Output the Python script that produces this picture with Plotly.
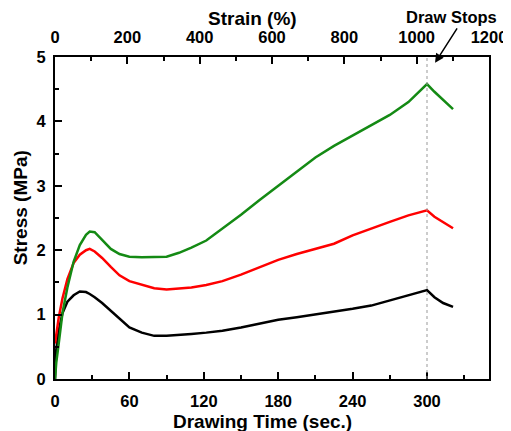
import plotly.graph_objects as go

# Drawing time (s)
time_s = [0, 1, 3, 6, 10, 15, 20, 25, 28, 32, 38, 45, 52, 60, 70, 80, 90, 100, 110,
          122, 135, 150, 165, 180, 195, 210, 225, 240, 255, 270, 285, 300, 306, 313, 321]

stress_black = [0.0, 0.45, 0.75, 1.02, 1.20, 1.30, 1.36, 1.35, 1.32, 1.27, 1.18, 1.06, 0.93,
                0.80, 0.72, 0.67, 0.67, 0.68, 0.70, 0.72, 0.75, 0.80, 0.86, 0.92, 0.96, 1.00,
                1.04, 1.09, 1.14, 1.22, 1.29, 1.38, 1.27, 1.18, 1.12]

stress_red = [0.55, 0.70, 0.95, 1.25, 1.55, 1.80, 1.93, 2.00, 2.02, 1.98, 1.88, 1.74, 1.61,
              1.52, 1.46, 1.41, 1.39, 1.40, 1.42, 1.46, 1.52, 1.62, 1.73, 1.85, 1.94, 2.02,
              2.10, 2.23, 2.34, 2.44, 2.54, 2.62, 2.52, 2.43, 2.34]

stress_green = [0.0, 0.25, 0.55, 1.02, 1.42, 1.82, 2.08, 2.24, 2.29, 2.28, 2.16, 2.02, 1.94,
                1.90, 1.89, 1.89, 1.90, 1.96, 2.04, 2.15, 2.33, 2.55, 2.78, 3.00, 3.22, 3.44,
                3.62, 3.78, 3.94, 4.10, 4.30, 4.58, 4.46, 4.33, 4.19]

draw_stop_time = 300
time_ticks = [0, 60, 120, 180, 240, 300]
strain_ticks = [0, 200, 400, 600, 800, 1000, 1200]
stress_ticks = [0, 1, 2, 3, 4, 5]

FONT = "Liberation Sans"
tick_font = dict(family=FONT, size=16.5, color="black", weight="bold")
title_font = dict(family=FONT, size=19, color="black", weight="bold")

fig = go.Figure()
for vals, col in [(stress_black, "black"), (stress_red, "#ff0000"), (stress_green, "#148a14")]:
    fig.add_trace(go.Scatter(x=time_s, y=vals, mode="lines",
                             line=dict(color=col, width=2.5), showlegend=False))

# empty trace to anchor the top strain axis
fig.add_trace(go.Scatter(x=[], y=[], xaxis="x2", showlegend=False))

fig.add_shape(type="line", xref="x", yref="paper", x0=draw_stop_time, x1=draw_stop_time,
              y0=0, y1=1, line=dict(color="#999999", width=1, dash="dot"))

minor_common = dict(ticks="inside", ticklen=4, tickcolor="black", tickwidth=1.5, showgrid=False)
axis_common = dict(ticks="inside", ticklen=7, tickwidth=1.5, tickcolor="black",
                   showline=True, linecolor="black", linewidth=2, showgrid=False,
                   zeroline=False, tickfont=tick_font, automargin=False)

# page body has an 8px margin, so the figure is sized/offset to compensate
fig.update_layout(
    width=503, height=423,
    margin=dict(l=47, r=22, t=49, b=52, autoexpand=False),
    paper_bgcolor="white", plot_bgcolor="white",
    xaxis=dict(range=[0, 350], tickvals=time_ticks, ticklabelstandoff=6,
               minor=dict(dtick=30, **minor_common), **axis_common),
    xaxis2=dict(range=[0, 1200], tickvals=strain_ticks, overlaying="x", side="top",
                ticklabelstandoff=5, minor=dict(dtick=100, **minor_common), **axis_common),
    yaxis=dict(range=[0, 5], tickvals=stress_ticks, mirror=True, ticklabelstandoff=4,
               minor=dict(dtick=0.5, **minor_common), **axis_common),
    annotations=[
        dict(x=0.456, y=1.119, xref="paper", yref="paper", text="Strain (%)",
             showarrow=False, xanchor="center", yanchor="middle", font=title_font),
        dict(x=0.479, y=-0.133, xref="paper", yref="paper", text="Drawing Time (sec.)",
             showarrow=False, xanchor="center", yanchor="middle", font=title_font),
        dict(x=-0.080, y=0.531, xref="paper", yref="paper", text="Stress (MPa)",
             showarrow=False, xanchor="center", yanchor="middle", textangle=-90,
             font=title_font),
        dict(x=306.5, y=4.91, xref="x", yref="y", text="", showarrow=True,
             arrowhead=2, arrowsize=1.2, arrowwidth=1.5, arrowcolor="black",
             ax=23, ay=-36),
        dict(x=0.914, y=1.124, xref="paper", yref="paper", text="Draw Stops",
             showarrow=False, xanchor="center", yanchor="middle",
             font=dict(family=FONT, size=16.5, color="black", weight="bold")),
    ],
)

fig.write_html("out.html")
